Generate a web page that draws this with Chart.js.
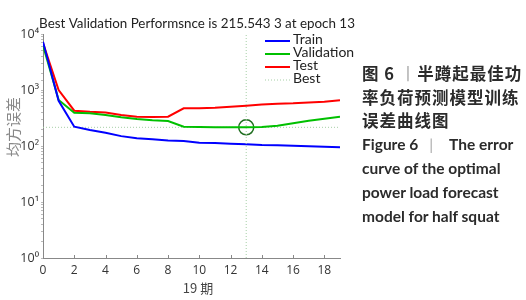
<!DOCTYPE html>
<html>
<head>
<meta charset="utf-8">
<script src="https://cdn.jsdelivr.net/npm/chart.js@4.4.0/dist/chart.umd.min.js"></script>
<style>
  body { margin: 0; background: #fff; }
  #wrap { position: relative; width: 526px; height: 300px; }
  #chart { position: absolute; left: 0; top: 0; }
  .cap { position: absolute; left: 362px; white-space: pre; color: #2b2b2b; }
  .zh { font-family: "Noto Sans CJK SC"; font-size: 16.5px; font-weight: bold; letter-spacing: 1px; }
  .en { font-family: Lato, "Open Sans"; font-size: 15.5px; font-weight: bold; }
  .bar { color: #aaa; font-weight: normal; }
  .en .bar { display: inline-block; margin: 0 16px 0 11px; }
</style>
</head>
<body>
<div id="wrap">
  <canvas id="chart" width="526" height="300"></canvas>
  <div class="cap zh" style="top:61px">图 6 <span class="bar">丨</span>半蹲起最佳功</div>
  <div class="cap zh" style="top:85px">率负荷预测模型训练</div>
  <div class="cap zh" style="top:108px">误差曲线图</div>
  <div class="cap en" style="top:135px">Figure 6<span class="bar">|</span>The error</div>
  <div class="cap en" style="top:159px">curve of the optimal</div>
  <div class="cap en" style="top:183px">power load forecast</div>
  <div class="cap en" style="top:207px">model for half squat</div>
</div>
<script>
// data
const epochs = [0, 1, 2, 3, 4, 5, 6, 7, 8, 9, 10, 11, 12, 13, 14, 15, 16, 17, 18, 19];
const train = [7300, 640, 221, 193, 172, 150, 137, 132, 126, 123, 114, 113, 110, 107, 104, 103, 101, 99, 97, 95];
const validation = [6300, 665, 393, 384, 357, 325, 303, 287, 280, 221, 218, 217, 216, 215.5433, 218, 230, 254, 282, 307, 333];
const test = [6900, 1000, 427, 408, 398, 357, 333, 330, 333, 470, 470, 480, 502, 525, 550, 569, 580, 600, 619, 655];
const bestEpoch = 13;
const bestValue = 215.5433;
const xTicks = [0, 2, 4, 6, 8, 10, 12, 14, 16, 18];
const yTicks = [1, 10, 100, 1000, 10000];
const yTickLabels = ["10\u2070", "10\u00b9", "10\u00b2", "10\u00b3", "10\u2074"];

const pts = arr => arr.map((v, i) => ({ x: epochs[i], y: v }));

// title, axis titles and legend
const extras = {
  id: "extras",
  afterDraw(chart) {
    const ctx = chart.ctx;
    const a = chart.chartArea;
    ctx.save();
    ctx.fillStyle = "#222";
    ctx.font = "13.4px Lato";
    ctx.textAlign = "center";
    ctx.textBaseline = "middle";
    ctx.fillText("Best Validation Performsnce is 215.543 3 at epoch 13", 197, 24);

    ctx.fillStyle = "#444";
    ctx.font = "13px 'Noto Sans CJK SC'";
    ctx.fillText("19 期", 198, 288);

    ctx.save();
    ctx.translate(13, 127);
    ctx.rotate(-Math.PI / 2);
    ctx.fillStyle = "#888";
    ctx.font = "15px 'Noto Sans CJK SC'";
    ctx.fillText("均方误差", 0, 0);
    ctx.restore();

    // inward tick marks on the x axis
    ctx.strokeStyle = "#888";
    ctx.lineWidth = 1;
    const xs = chart.scales.x;
    xTicks.forEach(v => {
      const px = Math.round(xs.getPixelForValue(v)) + 0.5;
      ctx.beginPath();
      ctx.moveTo(px, a.bottom);
      ctx.lineTo(px, a.bottom - 3);
      ctx.stroke();
    });

    // legend
    const items = chart.data.datasets.filter(d => d.inLegend);
    ctx.textAlign = "left";
    ctx.font = "14px Lato";
    items.forEach((d, i) => {
      const y = 40 + i * 13;
      ctx.beginPath();
      ctx.strokeStyle = d.borderColor;
      ctx.lineWidth = d.borderDash ? 1 : 2;
      ctx.setLineDash(d.borderDash || []);
      ctx.moveTo(a.right - 75, y + 1);
      ctx.lineTo(a.right - 50, y + 1);
      ctx.stroke();
      ctx.setLineDash([]);
      ctx.fillStyle = "#222";
      ctx.fillText(d.label, a.right - 47, y - 1);
    });
    ctx.restore();
  }
};

new Chart(document.getElementById("chart"), {
  type: "line",
  data: {
    datasets: [
      { label: "Best", inLegend: false, data: [{ x: bestEpoch, y: 1 }, { x: bestEpoch, y: 10000 }],
        borderColor: "#a6cfa6", borderWidth: 1, borderDash: [1, 2], pointRadius: 0 },
      { label: "Train", inLegend: true, data: pts(train), borderColor: "#0000ff", borderWidth: 2, pointRadius: 0 },
      { label: "Validation", inLegend: true, data: pts(validation), borderColor: "#00c000", borderWidth: 2, pointRadius: 0 },
      { label: "Test", inLegend: true, data: pts(test), borderColor: "#ff0000", borderWidth: 2, pointRadius: 0 },
      { label: "Best", inLegend: true, data: [{ x: 0, y: bestValue }, { x: 19, y: bestValue }],
        borderColor: "#a6cfa6", borderWidth: 1, borderDash: [1, 2], pointRadius: 0 },
      { label: "circle", inLegend: false, data: [{ x: bestEpoch, y: bestValue }], showLine: false,
        pointRadius: 7.5, pointBorderWidth: 1.5, pointBorderColor: "#1f6e1f",
        pointBackgroundColor: "rgba(0,0,0,0)", clip: false }
    ]
  },
  options: {
    responsive: false,
    animation: false,
    layout: { padding: { top: 34, right: 186, left: 0, bottom: 0 } },
    plugins: { legend: { display: false }, tooltip: { enabled: false } },
    scales: {
      x: {
        type: "linear", min: 0, max: 19,
        afterFit: s => { s.height = 42; },
        afterBuildTicks: s => { s.ticks = xTicks.map(v => ({ value: v })); },
        grid: { drawOnChartArea: false, drawTicks: false },
        border: { color: "#888", width: 1 },
        ticks: { color: "#333", font: { size: 12, family: "'Open Sans'" }, padding: 5 }
      },
      y: {
        type: "logarithmic", min: 1, max: 10000,
        afterFit: s => { s.width = 43; },
        grid: { drawOnChartArea: false, tickLength: 2, color: "#bbb" },
        border: { color: "#888", width: 1 },
        ticks: {
          color: "#333", font: { size: 12.5, family: "'Open Sans'" }, padding: 2,
          autoSkip: false,
          callback: v => {
            const k = yTicks.indexOf(v);
            return k >= 0 ? yTickLabels[k] : "";
          }
        }
      }
    }
  },
  plugins: [extras]
});
</script>
</body>
</html>
